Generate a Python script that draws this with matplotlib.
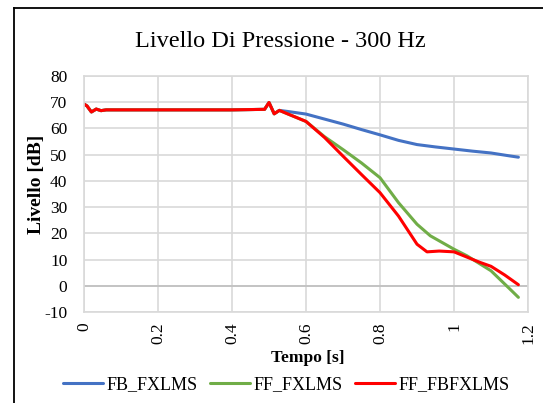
import numpy as np
import matplotlib
matplotlib.use("Agg")
import matplotlib.pyplot as plt
from matplotlib.lines import Line2D

# =====================================================
# Dati
# =====================================================

# tratto iniziale comune alle tre curve
t_start = [0.0, 0.008, 0.02, 0.033, 0.046, 0.06, 0.2, 0.4, 0.488, 0.5, 0.514, 0.528]
lvl_start = [69.2, 68.5, 66.2, 67.3, 66.7, 67.0, 67.0, 67.0, 67.2, 69.8, 65.5, 66.8]

t_fb = [0.55, 0.6, 0.65, 0.7, 0.75, 0.8, 0.85, 0.9, 0.95, 1.0, 1.05, 1.1, 1.15, 1.174]
lvl_fb = [66.4, 65.4, 63.5, 61.6, 59.5, 57.5, 55.4, 53.8, 52.9, 52.1, 51.3, 50.6, 49.5, 49.0]

t_ff = [0.55, 0.6, 0.65, 0.7, 0.75, 0.8, 0.85, 0.9, 0.936, 1.0, 1.035, 1.1, 1.15, 1.174]
lvl_ff = [65.5, 62.6, 56.8, 51.9, 46.8, 41.2, 31.7, 23.5, 19.1, 14.0, 11.5, 5.8, -1.0, -4.3]

t_fbff = [0.55, 0.6, 0.65, 0.7, 0.75, 0.8, 0.85, 0.9, 0.927, 0.96, 1.0, 1.035,
          1.07, 1.1, 1.137, 1.174]
lvl_fbff = [65.5, 62.6, 56.5, 49.4, 42.4, 35.5, 26.6, 15.9, 13.0, 13.3, 13.0, 11.0,
            9.0, 7.5, 4.2, 0.5]

series = [
    ("FB_FXLMS", t_fb, lvl_fb, "#4472C4"),
    ("FF_FXLMS", t_ff, lvl_ff, "#70AD47"),
    ("FF_FBFXLMS", t_fbff, lvl_fbff, "#FF0000"),
]

x_ticks = [0, 0.2, 0.4, 0.6, 0.8, 1, 1.2]
x_tick_labels = ["0", "0.2", "0.4", "0.6", "0.8", "1", "1.2"]
y_ticks = list(range(-10, 81, 10))

# =====================================================
# Grafico
# =====================================================

plt.rcParams['font.family'] = ['Liberation Serif', 'DejaVu Serif']
plt.rcParams['axes.unicode_minus'] = False

fig = plt.figure(figsize=(5.43, 4.03), dpi=100)
ax = fig.add_axes([0.1547, 0.225, 0.8177, 0.5872])

for name, t, lvl, col in series:
    ax.plot(
        t_start + t,
        lvl_start + lvl,
        color=col,
        linewidth=2.2,
        label=name,
        solid_capstyle="round"
    )

ax.set_xlim(0, 1.2)
ax.set_ylim(-10, 80)
ax.set_xticks(x_ticks)
ax.set_xticklabels(x_tick_labels, rotation=90)
ax.set_yticks(y_ticks)

ax.grid(True, color="#d9d9d9", linewidth=1.2)
ax.set_axisbelow(True)
ax.axhline(0, color="#bfbfbf", linewidth=1.2, zorder=1)
for s in ax.spines.values():
    s.set_color("#d9d9d9")
    s.set_linewidth(1.2)

ax.tick_params(length=0, labelsize=12.5)
ax.tick_params(axis="y", pad=12)
ax.tick_params(axis="x", pad=7)

ax.set_xlabel("Tempo [s]", fontsize=12.5, fontweight="bold", va="center")
ax.xaxis.set_label_coords(0.505, -0.195)
ax.set_ylabel("Livello [dB]", fontsize=14, fontweight="bold", va="center")
ax.yaxis.set_label_coords(-0.108, 0.542)

fig.text(0.5157, 1 - 47 / 403, "Livello Di Pressione - 300 Hz", fontsize=17.5,
         ha="center", va="baseline")

ax.legend(
    loc="center",
    bbox_to_anchor=(0.527, 0.045),
    bbox_transform=fig.transFigure,
    ncol=3,
    frameon=False,
    fontsize=13,
    handlelength=2.2,
    columnspacing=0.7,
    handletextpad=0.2
)

# bordo del riquadro (solo sinistra e alto visibili)
fig.add_artist(Line2D([14 / 543, 14 / 543], [0, 1 - 8 / 403],
                      transform=fig.transFigure, color="black", linewidth=1.3))
fig.add_artist(Line2D([14 / 543, 1], [1 - 8 / 403, 1 - 8 / 403],
                      transform=fig.transFigure, color="black", linewidth=1.3))

fig.savefig("out.png", dpi=100)
